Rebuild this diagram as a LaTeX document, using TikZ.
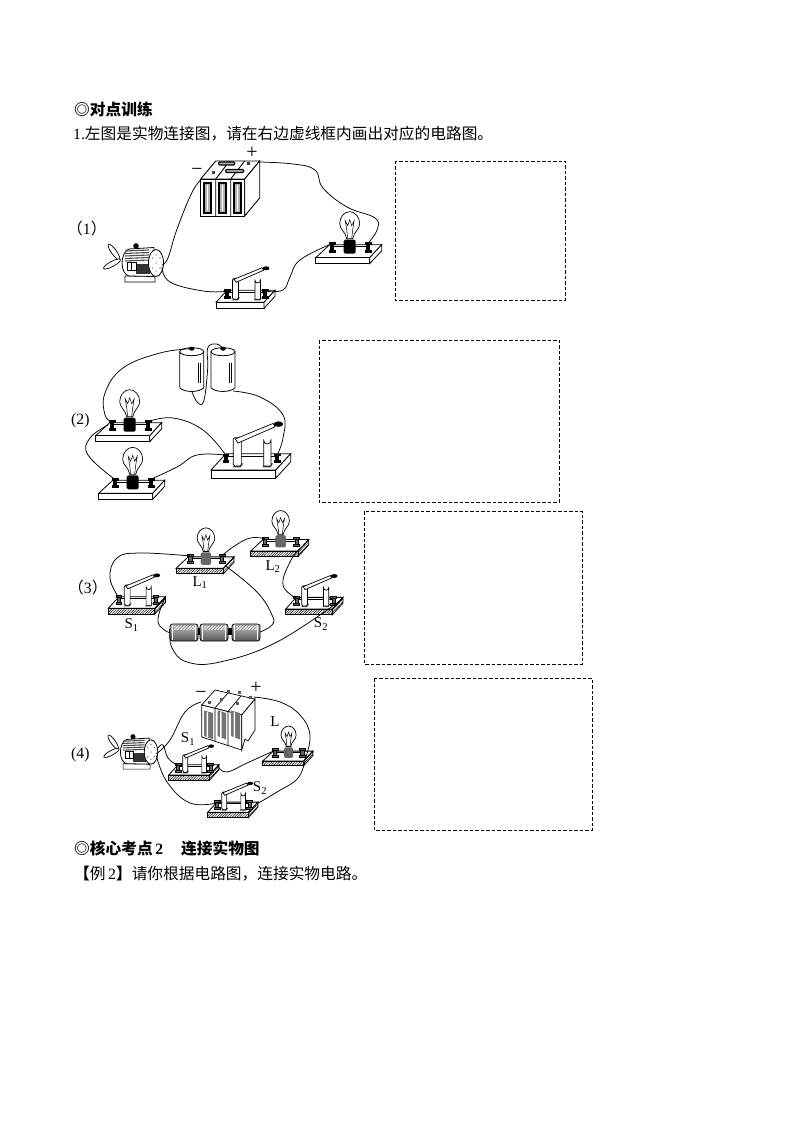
\documentclass[tikz,border=0pt]{standalone}
\usepackage{fontspec}
\usetikzlibrary{patterns.meta}
\setmainfont{Liberation Serif}
\newfontfamily\cjk{Noto Sans CJK SC}
\newcommand{\zw}[1]{{\cjk #1}}
\tikzset{
  lbl/.style={inner sep=0,anchor=west,font=\fontsize{15.7}{16}\selectfont},
  plab/.style={inner sep=0,font=\fontsize{15}{15}\selectfont},
  sgn/.style={inner sep=0,font=\fontsize{20}{20}\selectfont},
  dbox/.style={draw,dashed,dash pattern=on 3.5pt off 2pt,line width=.7pt},
  wire/.style={line width=.75pt},
  frontface/.style={fill=white},
  sideface/.style={fill=white},
  postcol/.style={fill=black},
  hatched/.style={
    frontface/.style={pattern={Lines[angle=45,distance=1.8pt,line width=.5pt]}},
    sideface/.style={pattern={Lines[angle=45,distance=1.8pt,line width=.5pt]}},
    postcol/.style={fill=black!60}},
  termpost/.pic={
    \fill[postcol,draw=black,line width=.4pt] (-1.7,-3) rectangle (1.7,4);
    \fill[postcol,draw=black,line width=.4pt] (-3,-4.5) rectangle (3,-2.5);
    \fill[postcol,draw=black,line width=.4pt] (-3,3) rectangle (3,5);
  },
  bulbboard/.pic={
    \draw[fill=white,line width=.8pt] (0,0)--(14,-13)--(66,-13)--(54,0)--cycle;
    \draw[frontface,draw=black,line width=.8pt] (0,0) rectangle (54,6);
    \draw[sideface,draw=black,line width=.8pt] (54,0)--(66,-13)--(66,-7)--(54,6)--cycle;
    \draw[line width=.7pt] (16,-11)--(52,-11);
    \pic at (16,-11) {termpost};
    \pic at (52,-11) {termpost};
    \draw[fill=white,line width=.7pt] (31,-19) .. controls (30,-26) and (24,-28) .. (24,-34) .. controls (24,-41) and (29,-46) .. (34,-46) .. controls (39,-46) and (44,-41) .. (44,-34) .. controls (44,-28) and (38,-26) .. (37,-19) -- cycle;
    \draw[line width=.5pt] (32,-19)--(31,-28)--(29.5,-37)--(32,-32)--(34,-38)--(36,-32)--(38.5,-37)--(37,-28)--(36,-19);
    \fill[postcol,rounded corners=1.5pt] (28,-18) rectangle (40,-4);
    \coordinate (-l) at (16,-14);
    \coordinate (-r) at (52,-14);
    \coordinate (-c) at (56,-3);
  },
  knifeswitch/.pic={
    \draw[fill=white,line width=.8pt] (0,0)--(11,-12)--(59,-12)--(48,0)--cycle;
    \draw[frontface,draw=black,line width=.8pt] (0,0) rectangle (48,6);
    \draw[sideface,draw=black,line width=.8pt] (48,0)--(59,-12)--(59,-6)--(48,6)--cycle;
    \draw[line width=.7pt] (11,-10)--(49,-10);
    \fill[black!70] (16,-2)--(22,-2)--(24,-5)--(18,-5)--cycle;
    \fill[black!70] (38,-2)--(44,-2)--(46,-5)--(40,-5)--cycle;
    \pic[scale=.9] at (11,-9) {termpost};
    \pic[scale=.9] at (49,-9) {termpost};
    \draw[fill=white,line width=.7pt,rounded corners=1.5pt] (16.5,-3)--(16.5,-24)--(22.5,-24)--(22.5,-3)--cycle;
    \draw[fill=white,line width=.7pt] (39,-3)--(39,-22) arc[start angle=180,end angle=0,radius=2.7]--(44.4,-3)--cycle;
    \draw[fill=white,line width=.7pt] (18,-23)--(46,-34.5)--(47.5,-32)--(20,-20)--cycle;
    \fill (50,-34) ellipse[x radius=3.5,y radius=2];
    \coordinate (-l) at (11,-11);
    \coordinate (-r) at (49,-11);
    \coordinate (-e) at (58,-10);
  },
  motor/.pic={
    \draw[fill=white,line width=.7pt,shift={(-42,-11)},rotate=125] (0,0) ellipse[x radius=9.5,y radius=2.6];
    \draw[fill=white,line width=.7pt,shift={(-44,1)},rotate=28] (0,0) ellipse[x radius=9.5,y radius=2.6];
    \draw[fill=white,line width=.7pt] (-31,13) -- (-3,13) -- (-1,15) -- (-1,19) -- (-31,19)--cycle;
    \draw[fill=white,line width=.8pt] (-27,-14) .. controls (-31,-13) and (-34,-6) .. (-34,0) .. controls (-34,7) and (-31,12) .. (-27,13) -- (-2,13.5) -- (-2,-15.5) -- cycle;
    \foreach \yy in {-12,-9.5,-7,-4.5,-2} {\draw[line width=1.1pt,black!70] (-31,\yy)--(-7,\yy-1);}
    \fill[black!80] (-20,1) rectangle (-6,11);
    \draw[fill=white,line width=.8pt] (-29,-1) rectangle (-20,7);
    \draw[line width=.6pt] (-24.5,-1)--(-24.5,7);
    \draw[fill=white,line width=.8pt] (0,0) ellipse[x radius=7.5,y radius=13.5];
    \fill (-20,-17) circle[radius=2.8];
    \foreach \ax/\ay in {0/0,0/-8,4/-5,4/5,-3.5/-5,-3.5/5,0/8} {\fill[black!70] (\ax,\ay) circle[radius=.7];}
    \coordinate (-a) at (6,2);
    \coordinate (-b) at (6,4);
  },
  accu/.pic={
    \draw[fill=white,line width=.9pt] (0,0)--(15,-18)--(59,-18)--(44,0)--cycle;
    \draw[fill=white,line width=.9pt] (0,0) rectangle (44,37);
    \draw[fill=white,line width=.9pt] (44,0)--(59,-18)--(59,19)--(44,37)--cycle;
    \draw[line width=.9pt] (15,0)--(29,-18) (30,0)--(44,-18) (15,0)--(15,37) (30,0)--(30,37);
    \foreach \xx in {3.5,18.5,33} {
      \draw[line width=1.7pt,fill=black!30] (\xx,4) rectangle (\xx+7,34);
      \fill[white] (\xx+3,6) rectangle (\xx+4.2,32);
    }
    \fill[black!75] (11,-7.5) rectangle (14,-4.5);
    \fill[black!75] (46.5,-17) rectangle (49.5,-14);
    \draw[fill=black!30,line width=1.1pt,rounded corners=1pt] (18,-17) rectangle (34,-14);
    \draw[fill=black!30,line width=1.1pt,rounded corners=1pt] (25,-9.5) rectangle (43,-6.5);
    \coordinate (-neg) at (1,0);
    \coordinate (-pos) at (58,-17);
  },
  dcell/.pic={
    \draw[fill=white,line width=.8pt] (-12,0)--(-12,36) .. controls (-8,41) and (8,41) .. (12,36) -- (12,0) -- cycle;
    \draw[fill=white,line width=.8pt] (0,0) ellipse[x radius=12,y radius=4];
    \fill (0,-3) ellipse[x radius=2.8,y radius=2];
    \draw[line width=.7pt] (6.5,11)--(6.5,31) (8.5,11)--(8.5,31);
    \coordinate (-top) at (0,-3);
  },
  rcell/.pic={
    \draw[top color=black!25,bottom color=black!65,line width=.7pt,rounded corners=2.5pt] (0,0) rectangle (28,17);
    \fill[black!12] (3.5,1.5) rectangle (24.5,5.5);
    \fill[pattern color=black!55,pattern={Lines[angle=45,distance=2.2pt,line width=.4pt]}] (3.5,1.5) rectangle (24.5,5.5);
    \draw[white,line width=1.2pt] (2.2,.8)--(2.2,16.2) (25.8,.8)--(25.8,16.2);
  }
}
\begin{document}
\begin{tikzpicture}[x=1pt,y=-1pt]
\useasboundingbox (0,0) rectangle (794,1123);
\fill[white] (0,0) rectangle (794,1123);

% headings
\node[lbl] (h1) at (74,109) {\zw{\bfseries ◎对点训练}};
\node[lbl] (h2) at (73,134) {1.\zw{左图是实物连接图，请在右边虚线框内画出对应的电路图。}};
\node[lbl] (h3) at (74,849) {\zw{\bfseries ◎核心考点}\,\textbf{2}\hspace{18pt}\zw{\bfseries 连接实物图}};
\node[lbl] (h4) at (74,874) {\zw{\bfseries 【}\zw{例}\,2\zw{\bfseries 】}\zw{请你根据电路图，连接实物电路。}};

\node[lbl] (n1) at (67,229) {\zw{（}1\zw{）}};
\node[lbl] (n2) at (71,421) {(2)};
\node[lbl] (n3) at (68,588) {\zw{（}3\zw{）}};
\node[lbl] (n4) at (71,755) {(4)};

% dashed boxes
\draw[dbox] (395,161) rectangle (565,300);
\draw[dbox] (319,340) rectangle (559,502);
\draw[dbox] (364,511) rectangle (582,664);
\draw[dbox] (374,678) rectangle (592,830);

% ---- circuit 1
\pic (a) at (200.7,179) {accu};
\pic (m) at (156,263) {motor};
\pic (s) at (216,302.3) {knifeswitch};
\pic (b) at (315.7,257.7) {bulbboard};
\node[sgn] (ap) at (252,153) {+};
\node[sgn] (am) at (197,172) {\textminus};
\draw[wire] plot[smooth,tension=.7] coordinates {(a-neg) (191.7,193) (176.7,230) (168,258) (m-a)};
\draw[wire] plot[smooth,tension=.7] coordinates {(a-pos) (293,164) (315,170) (323,188) (347,207) (375,218) (377,230) (b-r)};
\draw[wire] plot[smooth,tension=.7] coordinates {(m-b) (170,282) (203,291) (s-l)};
\draw[wire] plot[smooth,tension=.7] coordinates {(s-r) (283,290) (290,277) (300,260) (b-l)};

% ---- circuit 2
\pic (c1) at (191.7,351.7) {dcell};
\pic (c2) at (223,351.7) {dcell};
\pic (ba) at (95.7,435.7) {bulbboard};
\pic (bb) at (98.7,493.3) {bulbboard};
\pic[scale=1.35] (sb) at (211,470) {knifeswitch};
\draw[wire] plot[smooth,tension=.7] coordinates {(c1-top) (160,353) (123,368) (105,393) (105,415) (ba-l)};
\coordinate (c1b) at (192,392);
\coordinate (c2b) at (233,391);
\draw[wire] plot[smooth,tension=.7] coordinates {(c1b) (198,403) (204,400) (207.7,368) (207.7,348) (216.7,344) (c2-top)};
\draw[wire] plot[smooth,tension=.7] coordinates {(c2b) (260,397) (283,415) (283,438) (sb-r)};
\draw[wire] plot[smooth,tension=.7] coordinates {(ba-r) (173,418) (203,430) (sb-l)};
\coordinate (bal) at (108,425);
\draw[wire] plot[smooth,tension=.7] coordinates {(bal) (90,438) (88,455) (bb-l)};
\draw[wire] plot[smooth,tension=.7] coordinates {(bb-r) (177,467) (197,455) (sb-l)};

% ---- circuit 3
\pic[scale=.88,hatched] (l1) at (176,568.3) {bulbboard};
\pic[scale=.88,hatched] (l2) at (250.7,551) {bulbboard};
\pic[scale=.97,hatched] (s1) at (108.3,608.3) {knifeswitch};
\pic[scale=.97,hatched] (s2) at (285.7,609) {knifeswitch};
\fill (168.5,629) rectangle (171,633);
\fill (197,628) rectangle (200.5,635);
\fill (228,628) rectangle (232,635);
\pic (r1) at (170,624) {rcell};
\pic (r2) at (200,624) {rcell};
\pic (r3) at (232,624) {rcell};
\node[plab] (tl1) at (200,583) {L\textsubscript{1}};
\node[plab] (tl2) at (273,567) {L\textsubscript{2}};
\node[plab] (ts1) at (131.7,625) {S\textsubscript{1}};
\node[plab] (ts2) at (321,624) {S\textsubscript{2}};
\draw[wire] plot[smooth,tension=.7] coordinates {(s1-l) (110,578) (117,558) (140,553) (l1-l)};
\draw[wire] plot[smooth,tension=.7] coordinates {(l1-r) (233,547) (250,538) (l2-l)};
\coordinate (rright) at (260,632);
\coordinate (rleft) at (170,633);
\draw[wire] plot[smooth,tension=.7] coordinates {(l1-c) (257,592) (272,615) (272,625) (rright)};
\draw[wire] plot[smooth,tension=.7] coordinates {(l2-c) (290,562) (283,585) (s2-l)};
\draw[wire] plot[smooth,tension=.7] coordinates {(s1-e) (158,622) (rleft)};
\draw[wire] plot[smooth,tension=.7] coordinates {(rleft) (172,648) (187,662) (220,662) (277,642) (s2-e)};

% ---- circuit 4
\pic[scale=.9] (m4) at (151,752) {motor};
\pic[scale=.85,hatched] (t1) at (168.7,775) {knifeswitch};
\pic[scale=.85,hatched] (t2) at (207.7,812.3) {knifeswitch};
\pic[scale=.76,hatched] (lb) at (262.7,761) {bulbboard};
% battery of circuit 4
\draw[fill=white,line width=.7pt] (201.7,705)--(215,690)--(255,699)--(241.7,715)--cycle;
\draw[fill=white,line width=.7pt] (201.7,705)--(241.7,715)--(241.7,750)--(201.7,737)--cycle;
\draw[fill=white,line width=.7pt] (241.7,715)--(255,699)--(255,730)--(248,741)--(245,739)--(241.7,750)--cycle;
\draw[line width=.7pt] (215,708)--(215,741.3) (228,711.5)--(228,745.5) (215,708)--(228,693) (228,711.5)--(241,696);
\foreach \xa/\xb in {202/213,215.5/226,229/240} {
  \fill[black!55] (\xa+2,710.5)--(\xb,713)--(\xb,739.5)--(\xa+2,736)--cycle;
  \fill[white] (\xa+4.5,712)--(\xa+6,712.5)--(\xa+6,737.5)--(\xa+4.5,737)--cycle;
}
\foreach \px/\py in {209/702,221/699,228/691,239/692,250/697,237/703} {\fill[black!65] (\px-1.5,\py-1.5) rectangle (\px+1.5,\py+1.5);}
\coordinate (a4n) at (201,702);
\coordinate (a4p) at (254,697);
\node[sgn] (a4pl) at (256,688) {+};
\node[sgn] (a4mi) at (201,695) {\textminus};
\node[plab] (tL) at (275,722) {L};
\node[plab] (tS1) at (188,739) {S\textsubscript{1}};
\node[plab] (tS2) at (260,788) {S\textsubscript{2}};
\draw[wire] plot[smooth,tension=.7] coordinates {(a4n) (185,712) (170,740) (m4-a)};
\coordinate (m4c) at (158,748);
\draw[wire] plot[smooth,tension=.7] coordinates {(m4c) (163,745) (168,758) (t1-l)};
\draw[wire] plot[smooth,tension=.7] coordinates {(a4p) (280,702) (300,715) (310,735) (lb-c)};
\draw[wire] plot[smooth,tension=.7] coordinates {(t1-e) (227,772) (247,763) (lb-l)};
\draw[wire] plot[smooth,tension=.7] coordinates {(lb-c) (298,778) (277,792) (t2-e)};
\draw[wire] plot[smooth,tension=.7] coordinates {(m4-b) (167,782) (190,803) (t2-l)};
\end{tikzpicture}
\end{document}
